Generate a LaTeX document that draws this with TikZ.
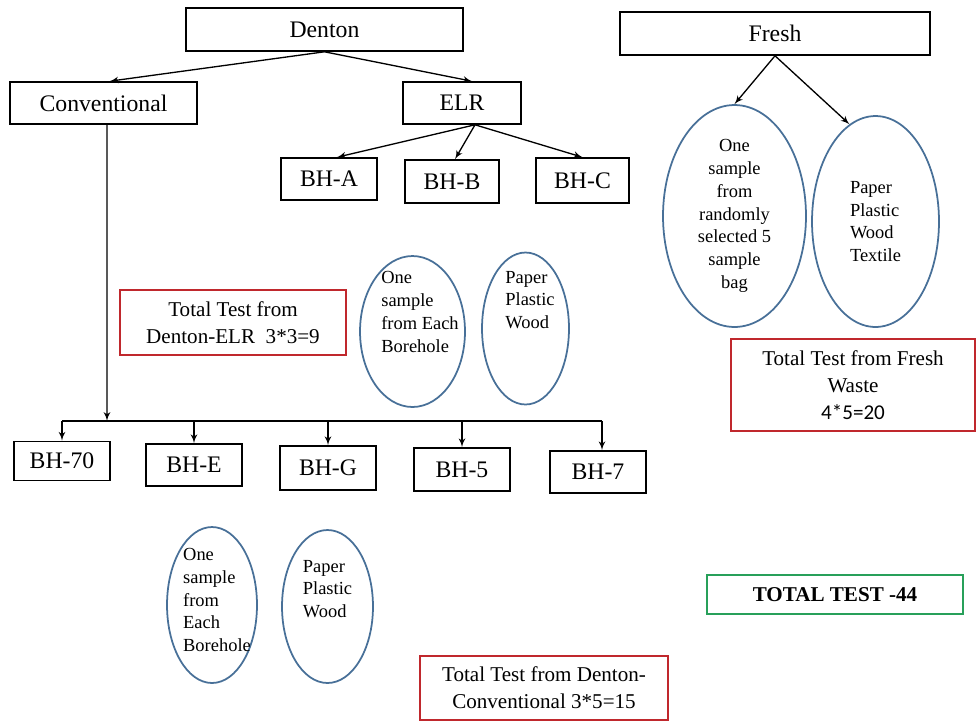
\documentclass[tikz,border=0pt]{standalone}
\usepackage{fontspec}
\setmainfont{Liberation Serif}
\newfontfamily\calibrifont{Carlito}
\usepackage{tikz}
\usetikzlibrary{arrows}
\usetikzlibrary{shapes,arrows}
\usetikzlibrary{positioning}
\definecolor{boxred}{RGB}{192,40,45}
\definecolor{ellblue}{RGB}{72,112,152}
\definecolor{boxgreen}{RGB}{40,160,90}
\tikzstyle{line} = [draw, -latex', line width=0.75pt]
\tikzset{
    block/.style={draw=black, rectangle, line width=0.9pt, inner sep=0pt,
        font=\fontsize{13.5}{16}\selectfont},
    bhbox/.style={block, minimum width=1.92cm, minimum height=0.84cm},
    total/.style={draw=boxred, rectangle, line width=1pt, inner sep=0pt, align=center,
        font=\fontsize{12}{15.5}\selectfont},
    sample/.style={draw=ellblue, ellipse, line width=1pt, inner sep=0pt,
        font=\fontsize{10.5}{13}\selectfont},
    smalltext/.style={inner sep=0pt, font=\fontsize{10.5}{13}\selectfont},
}

\begin{document}
\begin{tikzpicture}[x=0.02cm, y=-0.02cm, line width=0.75pt]
	\useasboundingbox (0,0) rectangle (976,721);
	% Denton branch
	\node[block, minimum width=5.54cm, minimum height=0.86cm] (denton) at (324.5,29.5) {Denton};
	\node[block, minimum width=3.74cm, minimum height=0.84cm] (conv) at (103.5,103) {Conventional};
	\node[block, minimum width=2.36cm, minimum height=0.84cm] (elr) at (462,103) {ELR};
	\draw[line] (denton.south) -- ([xshift=0.12cm]conv.north);
	\draw[line] (denton.south) -- ([xshift=0.2cm]elr.north);
	\node[bhbox] (bha) at (329,179) {BH-A};
	\node[bhbox, minimum width=1.88cm, minimum height=0.86cm] (bhb) at (452,181.5) {BH-B};
	\node[bhbox, minimum width=1.86cm, minimum height=0.9cm] (bhc) at (582.5,180.5) {BH-C};
	\draw[line] ([xshift=0.26cm]elr.south) -- ([xshift=0.16cm]bha.north);
	\draw[line] ([xshift=0.26cm]elr.south) -- ([xshift=0.06cm]bhb.north);
	\draw[line] ([xshift=0.26cm]elr.south) -- (bhc.north);
	% ELR samples
	\node[total, minimum width=4.52cm, minimum height=1.3cm] (elrtotal) at (233,322.5)
		{Total Test from\\Denton-ELR\ \ 3*3=9};
	\node[sample, minimum width=2.1cm, minimum height=3.02cm] (elrone) at (412.5,331.5) {};
	\node[smalltext, align=left] (elronetext) at ([xshift=0.15cm,yshift=0.39cm]elrone.center)
		{One\\sample\\from Each\\Borehole};
	\node[sample, minimum width=1.74cm, minimum height=3.04cm] (elrpaper) at (525.5,328.5) {};
	\node[smalltext, align=left] (elrpapertext) at ([xshift=0.09cm,yshift=0.57cm]elrpaper.center)
		{Paper\\Plastic\\Wood};
	% Conventional boreholes
	\coordinate (bus) at (107,421);
	\node[bhbox, minimum height=0.78cm] (bh70) at (62,461) {BH-70};
	\node[bhbox] (bhe) at (194,465) {BH-E};
	\node[bhbox, minimum height=0.88cm] (bhg) at (328,468) {BH-G};
	\node[bhbox, minimum height=0.86cm] (bh5) at (462,469.5) {BH-5};
	\node[bhbox] (bh7) at (598,472) {BH-7};
	\draw[line] ([xshift=0.07cm]conv.south) -- (bus);
	\draw (bh70.north |- bus) -- ([xshift=0.08cm]bh7.north |- bus);
	\foreach \b in {bh70,bhe,bhg,bh5} {
		\draw[line] (\b.north |- bus) -- (\b.north);
	}
	\draw[line] ([xshift=0.08cm]bh7.north |- bus) -- ([xshift=0.08cm]bh7.north);
	% Conventional samples
	\node[sample, minimum width=1.8cm, minimum height=3.12cm] (convone) at (212,605) {};
	\node[smalltext, align=left] (convonetext) at ([xshift=0.1cm,yshift=0.1cm]convone.center)
		{One\\sample\\from\\Each\\Borehole};
	\node[sample, minimum width=1.82cm, minimum height=3.06cm] (convpaper) at (327.5,606.5) {};
	\node[smalltext, align=left] (convpapertext) at ([yshift=0.35cm]convpaper.center)
		{Paper\\Plastic\\Wood};
	\node[total, minimum width=4.96cm, minimum height=1.28cm] (convtotal) at (544,688)
		{Total Test from Denton-\\Conventional 3*5=15};
	% Fresh waste
	\node[block, minimum width=6.2cm, minimum height=0.86cm] (fresh) at (775,33.5) {Fresh};
	\node[sample, minimum width=2.86cm, minimum height=4.44cm, align=center] (freshone) at (734.5,216)
		{One\\sample\\from\\randomly\\selected 5\\sample\\bag};
	\node[sample, minimum width=2.54cm, minimum height=4.22cm, align=left] (freshpaper) at (875.5,221.5)
		{Paper\\Plastic\\Wood\\Textile};
	\draw[line] (fresh.south) -- (freshone.north);
	\draw[line] (fresh.south) -- (freshpaper.105);
	\node[total, minimum width=4.88cm, minimum height=1.84cm] (freshtotal) at (853,385)
		{Total Test from Fresh\\Waste\\{\calibrifont 4*5=20}};
	% grand total
	\node[draw=boxgreen, rectangle, line width=1pt, minimum width=5.12cm, minimum height=0.78cm,
		font=\fontsize{12}{14}\selectfont\bfseries] (grand) at (835,594.5) {TOTAL TEST -44};
\end{tikzpicture}
\end{document}
